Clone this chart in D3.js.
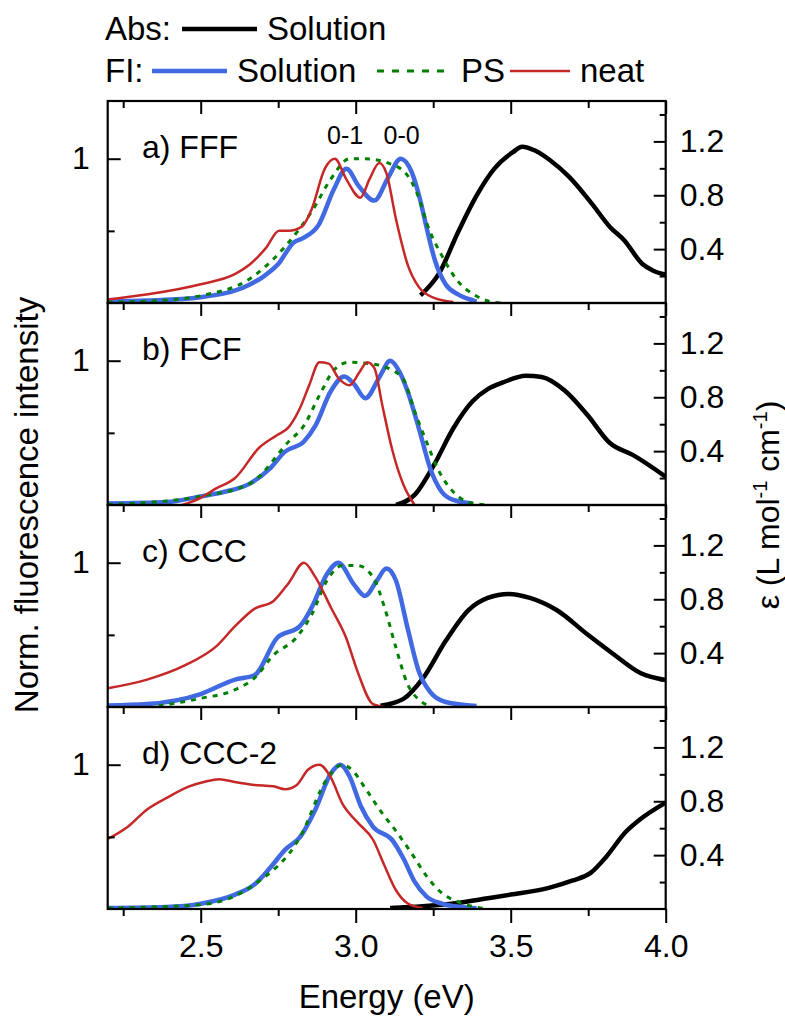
<!DOCTYPE html>
<html>
<head>
<meta charset="utf-8">
<script src="https://cdn.jsdelivr.net/npm/d3@7"></script>
<style>
  body { margin: 0; background: #fff; }
  text { font-family: "Liberation Sans", Arial, sans-serif; fill: #000; }
</style>
</head>
<body>
<div id="chart"></div>
<script>
// ---- data: [energy (eV), value] ----
var panelLabels = ["a) FFF", "b) FCF", "c) CCC", "d) CCC-2"];

// a) FFF
var fffFlSolution = [[2.2,0.01],[2.33,0.017],[2.5,0.04],[2.66,0.13],[2.70,0.18],[2.75,0.27],[2.80,0.42],[2.83,0.45],[2.88,0.54],[2.93,0.79],[2.97,0.93],[3.01,0.81],[3.06,0.71],[3.105,0.87],[3.145,1.0],[3.18,0.91],[3.205,0.74],[3.23,0.51],[3.255,0.30],[3.29,0.13],[3.33,0.06],[3.38,0.017],[3.39,0.01]];
var fffFlPS = [[2.2,0.005],[2.35,0.015],[2.5,0.05],[2.66,0.17],[2.81,0.49],[2.86,0.64],[2.92,0.86],[2.98,1.0],[3.03,1.0],[3.105,0.97],[3.165,0.89],[3.205,0.72],[3.23,0.55],[3.28,0.32],[3.33,0.15],[3.38,0.06],[3.44,0.007],[3.475,0]];
var fffFlNeat = [[2.2,0.024],[2.33,0.06],[2.5,0.13],[2.61,0.2],[2.66,0.27],[2.71,0.38],[2.753,0.50],[2.784,0.50],[2.827,0.53],[2.858,0.65],[2.90,0.93],[2.933,1.0],[2.969,0.86],[3.015,0.73],[3.045,0.86],[3.076,0.97],[3.099,0.9],[3.13,0.58],[3.167,0.27],[3.204,0.11],[3.253,0.035],[3.315,0.007]];
var fffAbs = [[3.209,0.057],[3.269,0.22],[3.329,0.52],[3.388,0.79],[3.448,1.0],[3.507,1.12],[3.537,1.16],[3.58,1.13],[3.627,1.06],[3.687,0.94],[3.761,0.74],[3.82,0.565],[3.866,0.466],[3.925,0.29],[3.96,0.24],[4.0,0.21]];

// b) FCF
var fcfFlSolution = [[2.2,0.01],[2.39,0.02],[2.5,0.06],[2.574,0.09],[2.66,0.15],[2.722,0.25],[2.772,0.37],[2.833,0.44],[2.87,0.55],[2.92,0.79],[2.963,0.89],[2.994,0.84],[3.031,0.74],[3.08,0.9],[3.111,1.0],[3.142,0.92],[3.167,0.79],[3.204,0.53],[3.241,0.25],[3.278,0.09],[3.315,0.035],[3.377,0.01]];
var fcfFlPS = [[2.2,0.005],[2.35,0.02],[2.5,0.06],[2.66,0.15],[2.784,0.44],[2.833,0.55],[2.883,0.76],[2.932,0.94],[2.98,0.99],[3.043,0.98],[3.09,0.96],[3.154,0.87],[3.19,0.65],[3.228,0.44],[3.265,0.25],[3.315,0.09],[3.364,0.02],[3.426,0]];
var fcfFlNeat = [[2.44,0.0],[2.5,0.05],[2.55,0.115],[2.61,0.185],[2.69,0.40],[2.747,0.485],[2.784,0.54],[2.82,0.67],[2.85,0.83],[2.883,0.99],[2.913,0.98],[2.944,0.88],[2.98,0.83],[3.012,0.92],[3.037,0.99],[3.06,0.95],[3.086,0.69],[3.117,0.39],[3.154,0.14],[3.19,0.0]];
var fcfAbs = [[3.13,0.0],[3.19,0.075],[3.253,0.30],[3.315,0.57],[3.377,0.77],[3.426,0.86],[3.475,0.91],[3.549,0.96],[3.6,0.95],[3.674,0.85],[3.747,0.67],[3.82,0.46],[3.895,0.37],[4.0,0.21]];

// c) CCC
var cccFlSolution = [[2.2,0.01],[2.327,0.02],[2.5,0.09],[2.611,0.19],[2.673,0.22],[2.747,0.48],[2.82,0.56],[2.858,0.69],[2.907,0.92],[2.944,1.0],[2.994,0.85],[3.03,0.77],[3.068,0.875],[3.099,0.96],[3.13,0.875],[3.167,0.55],[3.204,0.245],[3.24,0.105],[3.29,0.035],[3.39,0.007]];
var cccFlPS = [[2.364,0.007],[2.5,0.06],[2.611,0.12],[2.673,0.2],[2.735,0.36],[2.808,0.48],[2.858,0.64],[2.907,0.875],[2.957,0.98],[3.006,0.98],[3.056,0.90],[3.093,0.69],[3.13,0.41],[3.167,0.16],[3.204,0.05],[3.24,0.007]];
var cccFlNeat = [[2.2,0.13],[2.327,0.19],[2.45,0.29],[2.55,0.42],[2.611,0.56],[2.673,0.68],[2.735,0.735],[2.784,0.86],[2.833,1.0],[2.87,0.90],[2.92,0.69],[2.969,0.48],[3.006,0.245],[3.056,0.02],[3.093,0.0]];
var cccAbs = [[3.08,0.01],[3.154,0.06],[3.216,0.21],[3.29,0.49],[3.364,0.72],[3.426,0.81],[3.494,0.84],[3.562,0.81],[3.648,0.72],[3.747,0.54],[3.833,0.39],[3.92,0.25],[4.0,0.20]];

// d) CCC-2
var ccc2FlSolution = [[2.2,0.007],[2.389,0.014],[2.5,0.037],[2.611,0.10],[2.673,0.17],[2.722,0.28],[2.772,0.41],[2.821,0.50],[2.87,0.69],[2.92,0.94],[2.95,1.0],[2.98,0.92],[3.017,0.71],[3.056,0.57],[3.117,0.48],[3.154,0.35],[3.19,0.19],[3.228,0.088],[3.278,0.037],[3.34,0.014],[3.39,0.005]];
var ccc2FlPS = [[2.2,0.007],[2.5,0.03],[2.673,0.17],[2.821,0.50],[2.907,0.90],[2.957,1.0],[2.994,0.95],[3.03,0.84],[3.08,0.68],[3.13,0.54],[3.179,0.39],[3.228,0.23],[3.278,0.11],[3.327,0.053],[3.377,0.018],[3.426,0]];
var ccc2FlNeat = [[2.2,0.485],[2.265,0.57],[2.327,0.69],[2.39,0.77],[2.463,0.85],[2.51,0.88],[2.56,0.90],[2.61,0.88],[2.673,0.86],[2.735,0.85],[2.772,0.83],[2.81,0.86],[2.846,0.965],[2.883,1.0],[2.92,0.91],[2.957,0.73],[3.006,0.60],[3.056,0.48],[3.093,0.30],[3.13,0.13],[3.167,0.04],[3.216,0.007]];
var ccc2Abs = [[3.111,0.007],[3.216,0.02],[3.327,0.045],[3.426,0.08],[3.5,0.107],[3.623,0.157],[3.698,0.21],[3.759,0.27],[3.809,0.39],[3.87,0.57],[3.92,0.67],[4.0,0.79]];

var absData = [fffAbs, fcfAbs, cccAbs, ccc2Abs];
var flSolutionData = [fffFlSolution, fcfFlSolution, cccFlSolution, ccc2FlSolution];
var flPSData = [fffFlPS, fcfFlPS, cccFlPS, ccc2FlPS];
var flNeatData = [fffFlNeat, fcfFlNeat, cccFlNeat, ccc2FlNeat];

// ticks
var xMajorTicks = [2.5, 3.0, 3.5, 4.0];
var xMinorTicks = [2.25, 2.75, 3.25, 3.75];
var leftMajorTicks = [1];
var leftMinorTicks = [0.5];
var rightMajorTicks = [0.4, 0.8, 1.2];
var rightMinorTicks = [0.2, 0.6, 1.0, 1.4];

// ---- layout ----
var W = 785, H = 1017;
var plotLeft = 107.7, plotRight = 665.7, plotTop = 101, panelH = 202;
var colors = { abs: "#000000", sol: "#4169e1", ps: "#008000", neat: "#c62828" };
var fontSize = 32;

var svg = d3.select("#chart").append("svg")
	.attr("width", W)
	.attr("height", H)
	.style("background", "#fff");

var x = d3.scaleLinear().domain([2.2, 4.0]).range([plotLeft, plotRight]);
var yL = d3.scaleLinear().domain([0, 1.4]).range([panelH, 0]);
var yR = d3.scaleLinear().domain([0, 1.5]).range([panelH, 0]);

var lineL = d3.line().x(function(d) { return x(d[0]); }).y(function(d) { return yL(d[1]); }).curve(d3.curveMonotoneX);
var lineR = d3.line().x(function(d) { return x(d[0]); }).y(function(d) { return yR(d[1]); }).curve(d3.curveMonotoneX);

function styleAxis(g) {
	g.select(".domain").remove();
	g.selectAll(".tick line").attr("stroke", "#000").attr("stroke-width", 2);
	g.selectAll(".tick text").attr("font-size", fontSize).attr("font-family", "Liberation Sans, Arial, sans-serif").attr("fill", "#000");
}

panelLabels.forEach(function(label, i) {
	var g = svg.append("g").attr("transform", "translate(0," + (plotTop + i * panelH) + ")");

	g.append("clipPath").attr("id", "clip" + i)
		.append("rect").attr("x", plotLeft).attr("y", 0).attr("width", plotRight - plotLeft).attr("height", panelH);

	var plot = g.append("g").attr("clip-path", "url(#clip" + i + ")");
	plot.append("path").attr("d", lineR(absData[i])).attr("fill", "none").attr("stroke", colors.abs).attr("stroke-width", 4.5);
	plot.append("path").attr("d", lineL(flSolutionData[i])).attr("fill", "none").attr("stroke", colors.sol).attr("stroke-width", 4.5);
	plot.append("path").attr("d", lineL(flPSData[i])).attr("fill", "none").attr("stroke", colors.ps).attr("stroke-width", 3).attr("stroke-dasharray", "5,6");
	plot.append("path").attr("d", lineL(flNeatData[i])).attr("fill", "none").attr("stroke", colors.neat).attr("stroke-width", 2.5);

	// top ticks (inward)
	g.append("g").call(d3.axisBottom(x).tickValues(xMajorTicks).tickSize(13).tickFormat("")).call(styleAxis);
	g.append("g").call(d3.axisBottom(x).tickValues(xMinorTicks).tickSize(7).tickFormat("")).call(styleAxis);

	// left ticks (inward)
	g.append("g").attr("transform", "translate(" + plotLeft + ",0)")
		.call(d3.axisLeft(yL).tickValues(leftMajorTicks).tickSize(-13).tickPadding(18).tickFormat(d3.format("d"))).call(styleAxis);
	g.append("g").attr("transform", "translate(" + plotLeft + ",0)")
		.call(d3.axisLeft(yL).tickValues(leftMinorTicks).tickSize(-7).tickFormat("")).call(styleAxis);

	// right ticks (inward)
	g.append("g").attr("transform", "translate(" + plotRight + ",0)")
		.call(d3.axisRight(yR).tickValues(rightMajorTicks).tickSize(-12).tickPadding(14).tickFormat(d3.format(".1f"))).call(styleAxis);
	g.append("g").attr("transform", "translate(" + plotRight + ",0)")
		.call(d3.axisRight(yR).tickValues(rightMinorTicks).tickSize(-6).tickFormat("")).call(styleAxis);

	g.append("rect").attr("x", plotLeft).attr("y", 0).attr("width", plotRight - plotLeft).attr("height", panelH)
		.attr("fill", "none").attr("stroke", "#000").attr("stroke-width", 2.2);

	g.append("text").attr("x", 142).attr("y", 57).attr("font-size", fontSize).text(label);

	if (i === 0) {
		g.append("text").attr("x", x(2.966)).attr("y", 43).attr("text-anchor", "middle").attr("font-size", 25).text("0-1");
		g.append("text").attr("x", x(3.148)).attr("y", 43).attr("text-anchor", "middle").attr("font-size", 25).text("0-0");
	}
});

// bottom axis (outward ticks)
var bottomY = plotTop + 4 * panelH;
svg.append("g").attr("transform", "translate(0," + bottomY + ")")
	.call(d3.axisBottom(x).tickValues(xMajorTicks).tickSize(14).tickPadding(11).tickFormat(d3.format(".1f"))).call(styleAxis);
svg.append("g").attr("transform", "translate(0," + bottomY + ")")
	.call(d3.axisBottom(x).tickValues(xMinorTicks).tickSize(7).tickFormat("")).call(styleAxis);

// axis titles
svg.append("text").attr("x", (plotLeft + plotRight) / 2).attr("y", 1008).attr("text-anchor", "middle").attr("font-size", 33).text("Energy (eV)");
svg.append("text").attr("transform", "translate(38," + (plotTop + 2 * panelH) + ") rotate(-90)")
	.attr("text-anchor", "middle").attr("font-size", 33).text("Norm. fluorescence intensity");
var eps = svg.append("text").attr("transform", "translate(779," + (plotTop + 2 * panelH) + ") rotate(-90)")
	.attr("text-anchor", "middle").attr("font-size", 32);
eps.append("tspan").text("ε (L mol");
eps.append("tspan").attr("dy", -12).attr("font-size", 20).text("-1");
eps.append("tspan").attr("dy", 12).text(" cm");
eps.append("tspan").attr("dy", -12).attr("font-size", 20).text("-1");
eps.append("tspan").attr("dy", 12).text(")");

// legend
var legendFont = 33;
svg.append("text").attr("x", 105).attr("y", 40).attr("font-size", legendFont).text("Abs:");
svg.append("line").attr("x1", 182).attr("x2", 257).attr("y1", 29).attr("y2", 29).attr("stroke", colors.abs).attr("stroke-width", 4.5);
svg.append("text").attr("x", 267).attr("y", 40).attr("font-size", legendFont).text("Solution");

svg.append("text").attr("x", 105).attr("y", 82).attr("font-size", legendFont).text("FI:");
svg.append("line").attr("x1", 152).attr("x2", 227).attr("y1", 71).attr("y2", 71).attr("stroke", colors.sol).attr("stroke-width", 4.5);
svg.append("text").attr("x", 237).attr("y", 82).attr("font-size", legendFont).text("Solution");
svg.append("line").attr("x1", 377).attr("x2", 445).attr("y1", 71).attr("y2", 71).attr("stroke", colors.ps).attr("stroke-width", 3).attr("stroke-dasharray", "7,8");
svg.append("text").attr("x", 461).attr("y", 82).attr("font-size", legendFont).text("PS");
svg.append("line").attr("x1", 510).attr("x2", 570).attr("y1", 71).attr("y2", 71).attr("stroke", colors.neat).attr("stroke-width", 2.5);
svg.append("text").attr("x", 580).attr("y", 82).attr("font-size", legendFont).text("neat");
</script>
</body>
</html>
